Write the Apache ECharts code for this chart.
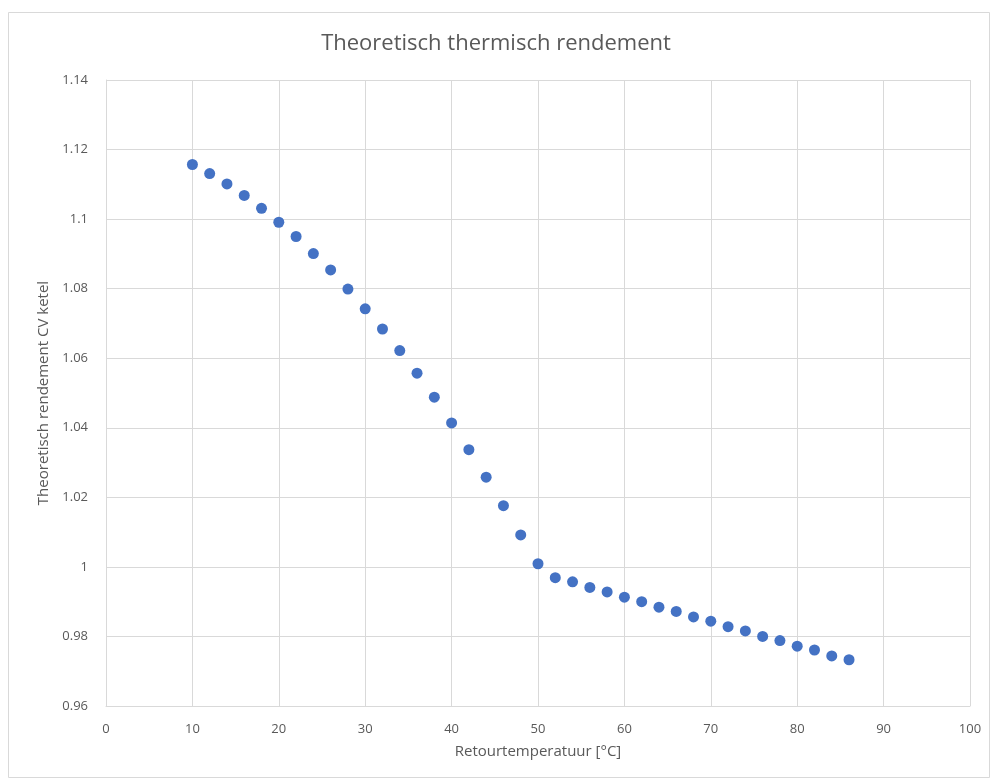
<!DOCTYPE html>
<html>
<head>
<meta charset="utf-8">
<script src="https://cdn.jsdelivr.net/npm/echarts@6/dist/echarts.min.js"></script>
<style>html,body{margin:0;padding:0;background:#fff;}#c{width:992px;height:781px;}</style>
</head>
<body>
<div id="c"></div>
<script>
const temps = [10,12,14,16,18,20,22,24,26,28,30,32,34,36,38,40,42,44,46,48,50,52,54,56,58,60,62,64,66,68,70,72,74,76,78,80,82,84,86];
const rendement = [1.1157,1.1131,1.1101,1.1068,1.1031,1.0991,1.0950,1.0901,1.0854,1.0799,1.0742,1.0684,1.0622,1.0557,1.0488,1.0414,1.0337,1.0258,1.0176,1.0092,1.0009,0.9969,0.9957,0.9941,0.9928,0.9913,0.9900,0.9884,0.9872,0.9856,0.9844,0.9828,0.9816,0.9800,0.9788,0.9772,0.9761,0.9744,0.9733];
const titleText = 'Theoretisch thermisch rendement';
const xTitle = 'Retourtemperatuur [°C]';
const yTitle = 'Theoretisch rendement CV ketel';

const font = 'Open Sans';
const chart = echarts.init(document.getElementById('c'), null, {renderer:'canvas'});
chart.setOption({
  animation:false,
  backgroundColor:'#fff',
  graphic:[{type:'rect', shape:{x:8.5,y:12.5,width:981,height:765}, style:{fill:'none', stroke:'#d9d9d9', lineWidth:1}, silent:true}],
  title:{text:titleText, left:'center', top:28, textStyle:{fontFamily:font, fontSize:22, fontWeight:'normal', color:'#595959'}},
  grid:{left:106, right:22, top:80, bottom:75},
  xAxis:{type:'value', min:0, max:100, interval:10,
    name:xTitle, nameLocation:'middle', nameGap:38,
    nameTextStyle:{fontFamily:font, fontSize:15, color:'#595959'},
    axisLine:{show:true, lineStyle:{color:'#d9d9d9'}}, axisTick:{show:false},
    axisLabel:{fontFamily:font, fontSize:13, color:'#595959', margin:17},
    splitLine:{show:true, lineStyle:{color:'#d9d9d9', width:1}}},
  yAxis:{type:'value', min:0.96, max:1.14, interval:0.02,
    name:yTitle, nameLocation:'middle', nameGap:54, nameRotate:90,
    nameTextStyle:{fontFamily:font, fontSize:15, color:'#595959'},
    axisLine:{show:true, lineStyle:{color:'#d9d9d9'}}, axisTick:{show:false},
    axisLabel:{fontFamily:font, fontSize:13, color:'#595959', margin:18,
      formatter:function(v){return String(parseFloat(v.toFixed(2)));}},
    splitLine:{show:true, lineStyle:{color:'#d9d9d9', width:1}}},
  series:[{type:'scatter', symbol:'circle', symbolSize:11,
    itemStyle:{color:'#4472C4', opacity:1},
    data:temps.map((t,i)=>[t, rendement[i]])}]
});
</script>
</body>
</html>
